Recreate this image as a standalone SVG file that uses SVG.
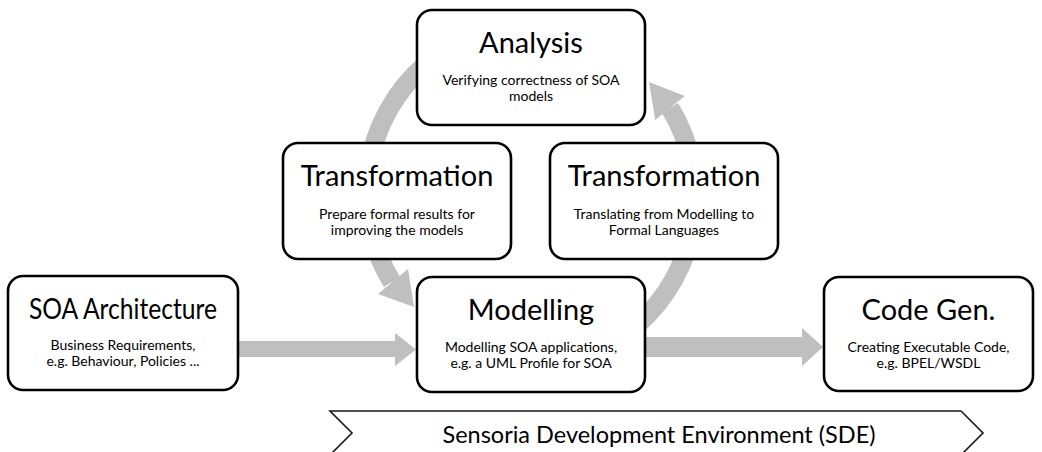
<svg xmlns="http://www.w3.org/2000/svg" width="1042" height="452" viewBox="0 0 1042 452">
<style>
.box{fill:#fff;stroke:#000;stroke-width:2.6}
.t{font-family:Lato,"Open Sans",sans-serif;fill:#000;text-anchor:middle}
.h{font-size:29px}
.s{font-size:14px}
.arc{fill:none;stroke:#bfbfbf;stroke-width:19}
.ah{fill:#bfbfbf}
</style>
<rect width="1042" height="452" fill="#fff"/>
<g id="connectors">
<path class="arc" d="M425,65 A170,170 0 0 0 392,282"/>
<polygon class="ah" points="414,307 408,269 378,294"/>
<path class="arc" d="M637,325 A170,170 0 0 0 670,108"/>
<polygon class="ah" points="649,82 655.2,120 684.8,96"/>
<polygon class="ah" points="238,341 395,341 395,333 416,349.5 395,366 395,357 238,357"/>
<polygon class="ah" points="645,337 802,337 802,328 823,347 802,366 802,357 645,357"/>
</g>
<g id="analysis">
<rect class="box" x="417" y="10" width="228" height="115" rx="15"/>
<text class="t h" x="531" y="53">Analysis</text>
<text class="t s" x="531" y="85">Verifying correctness of SOA</text>
<text class="t s" x="531" y="101">models</text>
</g>
<g id="transformation-left">
<rect class="box" x="283" y="143" width="228" height="116" rx="15"/>
<text class="t h" x="397" y="186">Transformation</text>
<text class="t s" x="397" y="219">Prepare formal results for</text>
<text class="t s" x="397" y="235">improving the models</text>
</g>
<g id="transformation-right">
<rect class="box" x="550" y="143" width="228" height="116" rx="15"/>
<text class="t h" x="664" y="186">Transformation</text>
<text class="t s" x="664" y="219">Translating from Modelling to</text>
<text class="t s" x="664" y="235">Formal Languages</text>
</g>
<g id="soa-architecture">
<rect class="box" x="8" y="276" width="230" height="114" rx="15"/>
<text class="t h" x="123" y="319" textLength="188" lengthAdjust="spacingAndGlyphs">SOA Architecture</text>
<text class="t s" x="123" y="350">Business Requirements,</text>
<text class="t s" x="123" y="366">e.g. Behaviour, Policies ...</text>
</g>
<g id="modelling">
<rect class="box" x="417" y="277" width="228" height="115" rx="15"/>
<text class="t h" x="531" y="320">Modelling</text>
<text class="t s" x="531" y="352">Modelling SOA applications,</text>
<text class="t s" x="531" y="368">e.g. a UML Profile for SOA</text>
</g>
<g id="code-gen">
<rect class="box" x="824" y="277" width="209" height="114" rx="15"/>
<text class="t h" x="928.5" y="320">Code Gen.</text>
<text class="t s" x="928.5" y="352">Creating Executable Code,</text>
<text class="t s" x="928.5" y="368">e.g. BPEL/WSDL</text>
</g>
<g id="sde">
<polygon points="330,411 961,411 983,433 961,455 330,455 352,433" fill="#fff" stroke="#1a1a1a" stroke-width="1.6"/>
<text class="t" x="659" y="443" font-size="23.5">Sensoria Development Environment (SDE)</text>
</g>
</svg>
